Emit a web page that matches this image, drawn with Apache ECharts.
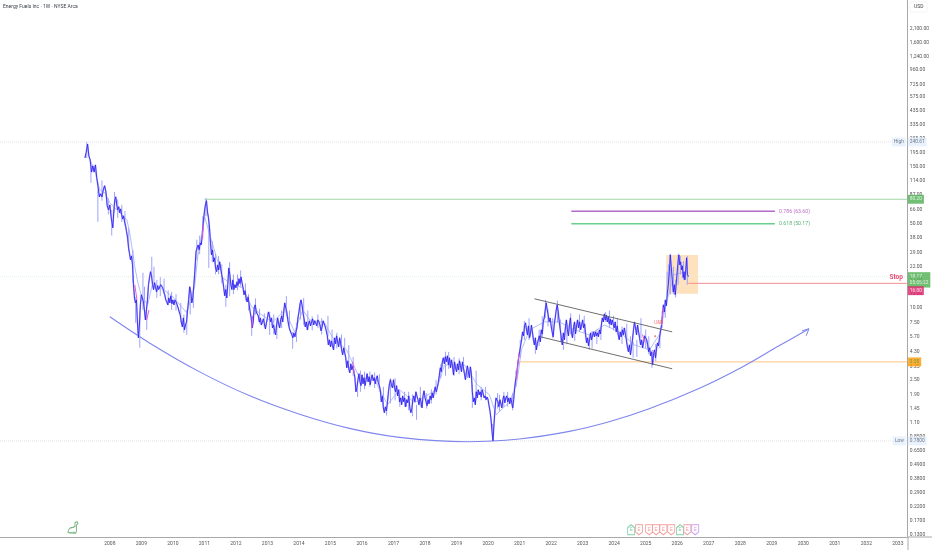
<!DOCTYPE html>
<html><head><meta charset="utf-8"><title>Energy Fuels Inc</title>
<style>html,body{margin:0;padding:0;background:#fff}#c{width:932px;height:550px}#c canvas{filter:blur(0.3px)}</style>
<script src="https://cdn.jsdelivr.net/npm/echarts@6/dist/echarts.min.js"></script></head>
<body><div id="c"></div>
<script>
const closes2007=[177,198,231,184,170,135,152,135,155,121,102,84,89,84,96,104,92.5,70.7,65.5];
const closes2008=[72,59.5,52,46.4,63,79.3,84,72,65.5,69.5,61.8,66.7,59.5,55,58.4,52,48.2,43,38.3,31.6,28.2,25.1,27.1,22.8,15.6,12.1,11,11.65,7.64,5.63,7.2,10.6];
const closes2009=[12.85,12.1,11.2,9.6,7.94,9.6,11.65,15.6,17.8,20,18.5,15.6,14.2,16.2,14.7,13.6,15.3,14.2,13.9,15.6,16.2,14.7,13.6,12.85,11.65,11.2,10.6,12.1,11,12.6,10.8];
const closes2010=[11.65,10.6,11.65,11.2,10.6,10,9.25,8.73,7.64,6.95,8.25,6.56,7.2,7.64,9.6,11.65,15,13.6,11,12.1,15.6,20.7,29.3,31.6,33.4,30.4,34.8,33.4,40.6,52];
const closes2011=[63,72,78,63,56.2,46.4,34.8,27.6,30.4,24.2,26.1,21.5,20,22.8,20.7,24.2,21.5,18.9,17.1,14.7,12.6,14.2,12.1,15.6,21.5,18.9,15.6,14.2,17.1,14.2,15.6];
const closes2012=[14.7,16.5,15.3,17.5,15.9,18.1,16.2,14.7,12.85,13.9,12.1,11.2,12.35,10.6,9.25,8.25,6.81,7.64,10,10.6,9.25,9.6,8.57,7.64,8.25,7.2,7.64,8.1,7.36,6.68,7.5];
const closes2013=[8.25,9.25,8.57,7.64,8.25,6.81,7.2,6.43,5.96,7.2,8.25,7.36,6.81,7.94,8.57,7.64,9.25,11,10,9.25,7.94,7.08,6.56,6.81,5.96,5.63,6.19,5.74,6.31,6.81,8.25];
const closes2014=[9.25,10.8,11.65,10.4,8.9,7.94,6.95,7.64,6.56,7.36,7.8,7.08,7.64,8.1,7.2,7.8,7.5,7.08,7.94,7.64,7.2,6.43,6.95,7.8,8.1,6.95,6.43,5.85,4.92,5.42];
const closes2015=[4.74,5.31,4.83,4.47,5.63,5.02,5.85,5.21,4.74,5.63,5.02,4.47,4.07,4.65,4.22,3.84,3.17,3.62,3.11,2.88,3.42,3.05,3.29,2.94,2.62,2,2.16,2.52,2.83,2.42,2.25];
const closes2016=[2.77,2.33,2.62,2.25,2.52,2.83,2.42,2.67,2.29,2.57,2.77,2.47,2.62,2.33,2.57,2.72,2.38,2.25,2.08,1.65,1.85,1.47,1.34,1.5,1.39,1.62,2,2.33,2.52,2.25,2.16];
const closes2017=[2.52,2.16,2,2.25,1.85,2.08,1.65,1.78,1.56,1.85,1.65,1.78,1.5,1.72,1.62,1.85,1.47,1.34,1.44,1.72,1.85,1.65,2,1.85,1.72,1.56,1.78,1.65,1.47,1.85,2.04];
const closes2018=[1.78,1.65,1.53,1.72,1.59,1.85,1.72,1.96,1.78,2,2.2,2,2.16,2.38,2.72,3.17,2.94,3.55,3.84,3.42,3.92,3.55,3.99,3.35,3.84,3.17,3.69,3.29,2.77,3.55,3.17];
const closes2019=[2.94,3.42,3.05,3.62,3.29,2.94,3.55,3.17,2.83,2.52,2.94,3.29,2.94,2.62,3.23,2.83,2,1.65,1.78,1.56,2,1.78,2.08,1.89,2,1.81,2.08,1.93,1.78,1.85,1.72,1.81];
const closes2020=[1.72,1.53,1.37,1.17,0.93,0.78,1.08,1.42,1.78,1.81,1.65,1.5,1.72,1.59,1.47,1.72,1.85,1.62,1.78,1.85,1.65,1.78,1.59,1.78,1.62,1.47,1.72,2.16,2.52,2.77,3.35,3.84];
const closes2021=[4.31,4.83,5.42,6.31,5.85,7.08,7.5,6.56,5.96,7.08,5.63,6.07,7.2,6.31,5.42,4.92,5.63,4.47,5.02,5.42,5.85,5.21,6.56,6.07,7.64,8.25,9.6,11,9.6,8.73,7.64,8.25];
const closes2022=[7.08,6.31,5.74,7.2,8.25,9.6,10.6,9.25,7.64,6.56,5.63,4.92,6.19,5.42,6.81,7.94,6.56,5.85,7.2,8.25,6.31,5.63,6.81,7.64,6.07,7.08,7.94,6.81,7.64,6.56,7.2];
const closes2023=[7.94,6.81,7.36,5.96,5.11,5.63,4.83,5.42,6.19,5.42,5.85,6.31,5.74,6.31,5.85,6.19,5.74,6.56,6.07,7.2,8.25,7.64,8.9,7.94,8.73,7.64,8.41,7.36,8.1,7.2,7.94,7.36];
const closes2024=[6.81,7.64,6.31,7.08,5.96,5.42,6.31,5.74,6.56,5.96,6.81,6.07,5.42,4.74,4.31,4.92,4.07,4.65,5.42,6.56,7.64,6.81,5.96,7.2,6.31,5.63,4.92,5.42,4.65,5.21,5.85];
const closes2025=[6.07,5.42,4.92,4.31,4.65,3.99,4.31,3.35,4.14,4.47,3.84,4.56,5.11,4.83,5.63,6.31,7.08,8.57,10.6,9.25,11.65,10.4,13.35,15.6,20,27.6,21.5,17.1,13.6,15.6,12.85,15.9];
const closes2026=[20,24.2,27.6,22.8,24.2,20.7,22.4,17.8,20,17.1,20.7,26.1,18.9,18.17];
const yearSpans=[[2007.21,2008,closes2007],[2008,2009,closes2008],[2009,2010,closes2009],[2010,2011,closes2010],[2011,2012,closes2011],[2012,2013,closes2012],[2013,2014,closes2013],[2014,2015,closes2014],[2015,2016,closes2015],[2016,2017,closes2016],[2017,2018,closes2017],[2018,2019,closes2018],[2019,2020,closes2019],[2020,2021,closes2020],[2021,2022,closes2021],[2022,2023,closes2022],[2023,2024,closes2023],[2024,2025,closes2024],[2025,2026,closes2025],[2026,2026.38,closes2026]];
// [date, low, high]
const wicks=[[2007.27,177,240.61],[2007.40,110,155],[2007.62,52,96],[2008.06,40,65.5],[2008.38,52,72],[2008.73,16.2,30.4],[2008.82,7.5,12.3],[2008.95,4.65,8.75],[2009.05,9.6,19.6],[2009.17,6.56,9.25],[2009.33,18.1,26.6],[2009.49,12.1,17.1],[2009.96,9.6,13.6],[2010.44,5.96,9.6],[2010.76,25.1,36.9],[2011.14,21.5,49],[2011.68,10.2,15.6],[2012.5,5.85,8.25],[2013.07,5.96,9.25],[2013.8,4.56,6.31],[2014.15,7.2,12.1],[2015.45,4.31,5.63],[2015.86,1.81,2.29],[2016.78,1.27,1.56],[2017.73,1.17,1.56],[2018.65,2.72,4.31],[2019.5,1.47,2.29],[2020.14,0.78,1.08],[2020.36,1.37,1.89],[2021.02,3.84,5.42],[2021.5,4.14,5.63],[2021.82,8.25,11.65],[2022.39,4.47,5.96],[2023.21,4.47,5.96],[2023.72,7.64,9.25],[2024.6,3.84,5.21],[2025.2,3.17,4.31],[2025.62,8.25,11.65],[2025.78,12.85,28.2],[2026.03,15.6,28.2],[2026.32,15.6,27.1]];
const wicksDense=[[2007.75,78,115],[2007.95,60,82],[2008.15,62,92],[2008.25,56,80],[2008.48,48,64],[2008.6,30,46],[2009.1,10,15],[2009.4,15,22],[2009.6,12.5,18],[2009.72,13,17.5],[2009.85,10.5,14],[2010.1,9.5,13],[2010.25,7.5,11],[2010.35,6.2,8.8],[2010.55,8.8,13],[2010.65,10,14.5],[2010.85,28,40],[2010.95,38,58],[2011.05,58,82],[2011.25,24,36],[2011.35,19,28],[2011.45,19,27],[2011.55,16,23],[2011.8,12.5,24],[2011.92,13,19],[2012.05,14,19],[2012.15,15,20.5],[2012.3,11.5,16],[2012.4,9.5,13],[2012.62,8.8,12],[2012.75,7.4,9.8],[2012.9,6.9,9],[2013.2,6,8.8],[2013.3,5.5,7.8],[2013.45,6.8,9.5],[2013.6,8.5,12.5],[2013.7,6.5,9.5],[2013.92,5.2,7.5],[2014.05,8,11.5],[2014.28,6.5,9.5],[2014.42,6.5,8.5],[2014.6,6.8,8.8],[2014.72,6,8.2],[2014.92,5.8,8.6],[2015.05,4.8,6.6],[2015.2,4.6,6.2],[2015.35,4.4,6],[2015.58,3.4,4.9],[2015.72,2.7,3.9],[2015.95,2,3],[2016.08,2.1,2.95],[2016.25,2.2,2.95],[2016.4,2.15,2.9],[2016.55,2,2.8],[2016.68,1.45,2.2],[2016.9,1.6,2.6],[2017.05,1.7,2.6],[2017.2,1.5,2],[2017.35,1.5,2],[2017.48,1.4,2],[2017.6,1.25,1.9],[2017.85,1.5,2.2],[2018.05,1.45,1.95],[2018.2,1.6,2.1],[2018.35,1.9,2.5],[2018.5,2.6,3.4],[2018.75,3.1,4.3],[2018.92,2.7,3.9],[2019.08,2.8,3.8],[2019.22,2.9,3.9],[2019.35,2.6,3.3],[2019.62,1.7,3],[2019.78,1.7,2.2],[2019.92,1.7,2.2],[2020.3,1.45,1.95],[2020.5,1.5,2],[2020.62,1.5,2],[2020.78,1.4,1.95],[2020.88,2.2,3],[2021.15,5.4,7.8],[2021.3,5.4,8.2],[2021.62,4.8,6.6],[2021.72,5.6,8.5],[2021.9,7,9.8],[2022.05,5.6,8.2],[2022.2,7.5,11.5],[2022.3,5.2,8],[2022.5,5,7.5],[2022.62,6,9],[2022.75,5.3,7.5],[2022.9,6.3,8.8],[2023.05,6.2,8.6],[2023.3,4.6,6.4],[2023.45,5,6.6],[2023.58,5.4,7],[2023.85,6.8,9.5],[2023.98,6.5,8.6],[2024.1,6,8.2],[2024.25,5,7],[2024.4,5.4,7.4],[2024.52,4.2,5.8],[2024.72,3.9,5.4],[2024.85,5.6,8.2],[2025.0,4.6,6.6],[2025.1,4.1,5.8],[2025.32,3.6,5],[2025.45,4.6,6.4],[2025.52,6.8,9.4],[2025.68,13,20],[2025.72,15,23],[2025.88,13,22],[2025.95,12.2,17],[2026.1,19,27],[2026.2,17,24.5]];
const movingAvg=[[2007.37,170],[2007.52,141],[2007.68,96],[2007.84,90.7],[2008,75],[2008.32,61.8],[2008.54,54.1],[2008.63,42.2],[2008.73,28.7],[2008.79,22],[2008.89,16.2],[2009.01,12.35],[2009.2,10.6],[2009.36,16.2],[2009.58,15],[2010,12.35],[2010.44,9.07],[2010.69,15],[2010.79,26.6],[2011.01,57.3],[2011.17,40.6],[2011.39,26.1],[2011.58,17.8],[2011.9,15.6],[2012.21,14.7],[2012.5,10.2],[2012.82,8.73],[2013.17,7.64],[2013.55,9.6],[2013.86,6.31],[2014.12,9.6],[2014.34,7.94],[2014.81,7.5],[2015.07,5.63],[2015.51,4.47],[2015.92,2.62],[2016.4,2.52],[2016.81,1.56],[2017.19,2.08],[2017.67,1.62],[2018.36,2.08],[2018.62,3.35],[2019.25,3.35],[2019.66,2.29],[2020.04,1.89],[2020.26,1.29],[2020.68,1.65],[2020.9,2.29],[2021.06,4.47],[2021.31,6.56],[2021.79,7.64],[2022.26,7.64],[2022.74,6.56],[2023.21,5.96],[2023.69,7.2],[2024.16,6.31],[2024.64,4.92],[2025.12,4.47],[2025.43,5.96],[2025.68,11.65],[2025.9,18.9],[2026.32,20]];
const pinkSegments=[[[2008.79,15.6],[2008.86,11.65]],[[2009.17,7.94],[2009.24,9.6]],[[2010.92,36.9],[2010.97,49]],[[2012.5,6.81],[2012.53,8.6]],[[2015.7,3.55],[2015.76,2.8]],[[2020.9,2.5],[2020.98,4.2]],[[2024.9,6],[2024.96,5.2]],[[2025.5,7.2],[2025.56,10]]];
const arcCurve=[[2008,8.42],[2009.27,5.08],[2010.85,2.93],[2012.44,1.85],[2014.02,1.3],[2015.6,0.992],[2017.19,0.835],[2019.31,0.768],[2020.99,0.81],[2022.58,0.937],[2023.84,1.126],[2025.11,1.444],[2026.69,2.13],[2027.96,3.11],[2029.23,4.83],[2030.18,6.69]];
const arcArrow=[[2029.96,6.44],[2030.18,6.69],[2030.09,5.85]];
const channelUpper=[[2021.47,11.9],[2025.84,6.31]];
const channelLower=[[2021.66,5.74],[2025.84,3.11]];
const xTickLabels=[2008,2009,2010,2011,2012,2013,2014,2015,2016,2017,2018,2019,2020,2021,2022,2023,2024,2025,2026,2027,2028,2029,2030,2031,2032,2033];
const yTickLabels=['2,100.00','1,600.00','1,240.00','960.00','725.00','575.00','435.00','335.00','255.00','195.00','150.00','114.00','87.00','66.00','50.00','38.00','29.00','22.00','17.00','13.00','10.00','7.50','5.70','4.30','3.25','2.50','1.90','1.45','1.10','0.8500','0.6500','0.4900','0.3800','0.2900','0.2200','0.1700','0.1300'];
const xMin=2004.515, xMax=2033.285, yMin=0.1236, yMax=3659;
// [x from, x to, price, colour, width, dash]
const levels=[[xMin,xMax,240.61,'#e2e2e2',1,'dotted'],[xMin,xMax,0.78,'#e2e2e2',1,'dotted'],[xMin,xMax,18.17,'#e0f1e1',1,'dotted'],[2011.01,xMax,80.2,'#a5d6a7',1,'solid'],[2020.93,xMax,3.55,'#ffc680',1,'solid'],[2026.35,xMax,16,'#f48f8f',1,'solid'],[2022.64,2029.1,63.6,'#b06ac8',1.5,'solid'],[2022.64,2029.1,50.17,'#66d08c',1.5,'solid']];
// [text, year, price, colour, side, size, weight]
const notes=[['0.786 (63.60)',2029.2,63.6,'#ab47bc','right',5.2,'normal'],['0.618 (50.17)',2029.2,50.17,'#2e9e50','right',5.2,'normal'],['Stop',2033.19,17.9,'#e0204f','left',6.5,'bold'],['U&R',2025.41,7.5,'#ef5350','inside',4.6,'normal'],['D',2025.23,4.22,'#b45fd0','inside',4.6,'normal'],['◆',2025.29,5.85,'#ef5350','inside',3.2,'normal']];
// [text, tag centre price, background, colour, side]
const tags=[['240.61',240.61,'#e3effb','#4a5a70','right'],['High',240.61,'#e3effb','#4a5a70','left'],['80.20',80.2,'#4caf50','#fff','right'],['18.17\n05:05:22',17.1,'#4caf50','#fff','right'],['16.00',13.9,'#e0206a','#fff','right'],['3.55',3.55,'#ff9800','#3f9d4a','right'],['0.7800',0.78,'#e3effb','#4a5a70','right'],['Low',0.78,'#e3effb','#4a5a70','left']];
const flagDates=[2024.54,2024.79,2025.11,2025.33,2025.56,2025.81,2026.09,2026.32,2026.57];
const flagKinds=['up','down','down','down','down','down','up','down','div'];
const flagPrice=0.142;
const logoPoint=[2006.83,0.148];

const mainData=yearSpans.flatMap(([a,b,v])=>v.map((p,i)=>[a+(b-a)*i/v.length,p]));
const wickData=wicks.concat(wicksDense).flatMap(([d,l,h])=>[[d,l],[d,h],null]);
const pinkData=pinkSegments.flatMap(s=>[...s,null]);
const lineS=(name,data,color,width,z,extra)=>Object.assign({name,type:'line',data,showSymbol:false,symbol:'none',silent:true,animation:false,z,lineStyle:{color,width}},extra||{});
const series=[];
levels.forEach((l,i)=>series.push(lineS('level'+i,[[l[0],l[2]],[l[1],l[2]]],l[3],l[4],2,{lineStyle:{color:l[3],width:l[4],type:l[5]}})));
series.push(lineS('box',[],'#000',0,1,{markArea:{silent:true,itemStyle:{color:'rgba(253,190,110,0.45)'},data:[[{coord:[2025.65,27.6]},{coord:[2026.66,13.1]}]]}}));
series.push(lineS('arc',arcCurve,'#7f86ee',1.1,3,{smooth:0.35}));
series.push(lineS('arcArrow',arcArrow,'#7f86ee',1,3));
series.push(lineS('chU',channelUpper,'#606060',0.9,6));
series.push(lineS('chL',channelLower,'#606060',0.9,6));
series.push(lineS('ma',movingAvg,'#a9b7f5',0.9,4));
series.push(lineS('wicks',wickData,'#9da3fb',1,4,{connectNulls:false}));
series.push(lineS('haze',mainData,'#b4b8fc',1.6,4));
series.push(lineS('price',mainData,'#2f1cf0',0.85,5));
series.push(lineS('pink',pinkData,'#e45fd0',1,6,{connectNulls:false}));
series.push({type:'scatter',silent:true,animation:false,clip:false,z:8,symbolSize:0,data:notes.map(n=>({value:[n[1],n[2]],label:{show:true,position:n[4],distance:1,formatter:n[0],color:n[3],fontSize:n[5],fontWeight:n[6],fontFamily:'Roboto'}}))});
series.push({type:'scatter',silent:true,animation:false,clip:false,z:9,symbolSize:0,data:tags.map(t=>({value:[xMax,t[1]],label:{show:true,position:t[4],distance:1,formatter:t[0],color:t[3],backgroundColor:t[2],fontSize:4.8,lineHeight:6.5,padding:[1.2,2],fontFamily:'Roboto'}}))});
const flagStyle={up:['#62c796','path://M5 0L10 4V14H0V4Z','E'],down:['#f08a8a','path://M0 0H10V10L5 14L0 10Z','E'],div:['#c187ef','path://M0 0H10V10L5 14L0 10Z','E']};
series.push({type:'scatter',silent:true,animation:false,z:7,data:flagDates.map((d,i)=>{const f=flagStyle[flagKinds[i]];return {value:[d,flagPrice],symbol:f[1],symbolSize:[7,10],itemStyle:{color:'#fff',borderColor:f[0],borderWidth:1},label:{show:true,position:'inside',formatter:f[2],color:f[0],fontSize:4.6}};})});
series.push({type:'scatter',silent:true,animation:false,z:7,data:[logoPoint],symbol:'path://M1 11C1 7 4 6 6 6L8 5V1.5L10 0.5L11 2L9.5 4V9C9.5 10.5 9 11 8.5 11.5ZM3 10.5V12M7 10V12',symbolSize:[10,12],itemStyle:{color:'#fff',borderColor:'#4f9e57',borderWidth:1}});

const yVals=yTickLabels.map(s=>parseFloat(s.replace(/,/g,'')));
const chart=echarts.init(document.getElementById('c'),null,{renderer:'canvas'});
chart.setOption({
 animation:false,backgroundColor:'#fff',
 title:{text:'Energy Fuels Inc · 1W · NYSE Arca',left:3,top:4,padding:0,textStyle:{fontFamily:'Roboto',fontSize:5,fontWeight:'normal',color:'#3a3f4a'}},
 grid:{left:0,right:24,top:0,bottom:13,containLabel:false},
 xAxis:{type:'value',min:xMin,max:xMax,splitLine:{show:false},axisLine:{show:true,onZero:false,lineStyle:{color:'#a8a8a8',width:1}},axisTick:{show:false},
  axisLabel:{customValues:xTickLabels,color:'#555',fontSize:5,margin:4,fontFamily:'Roboto',formatter:v=>String(Math.round(v))}},
 yAxis:{type:'log',logBase:10,min:yMin,max:yMax,position:'right',splitLine:{show:false},axisLine:{show:true,onZero:false,lineStyle:{color:'#a8a8a8',width:1}},axisTick:{show:false},
  axisLabel:{customValues:yVals,color:'#555',fontSize:5,margin:3,fontFamily:'Roboto',formatter:v=>{let b=0,e=1e9;yVals.forEach((y,i)=>{const d=Math.abs(Math.log(y/v));if(d<e){e=d;b=i;}});return yTickLabels[b];}}},
 graphic:[
  {type:'line',z:1,shape:{x1:908,y1:537,x2:932,y2:537},style:{stroke:'#a8a8a8',lineWidth:1}},
  {type:'line',z:1,shape:{x1:908,y1:537,x2:908,y2:550},style:{stroke:'#a8a8a8',lineWidth:1}},
  {type:'rect',z:10,shape:{x:910,y:2,width:17,height:10,r:1},style:{fill:'#fff',stroke:'#ececec',lineWidth:0.6}},
  {type:'text',z:11,x:914,y:4.5,style:{text:'USD',fontSize:5,fontFamily:'Roboto',fill:'#444'}}
 ],
 series
});
</script></body></html>
